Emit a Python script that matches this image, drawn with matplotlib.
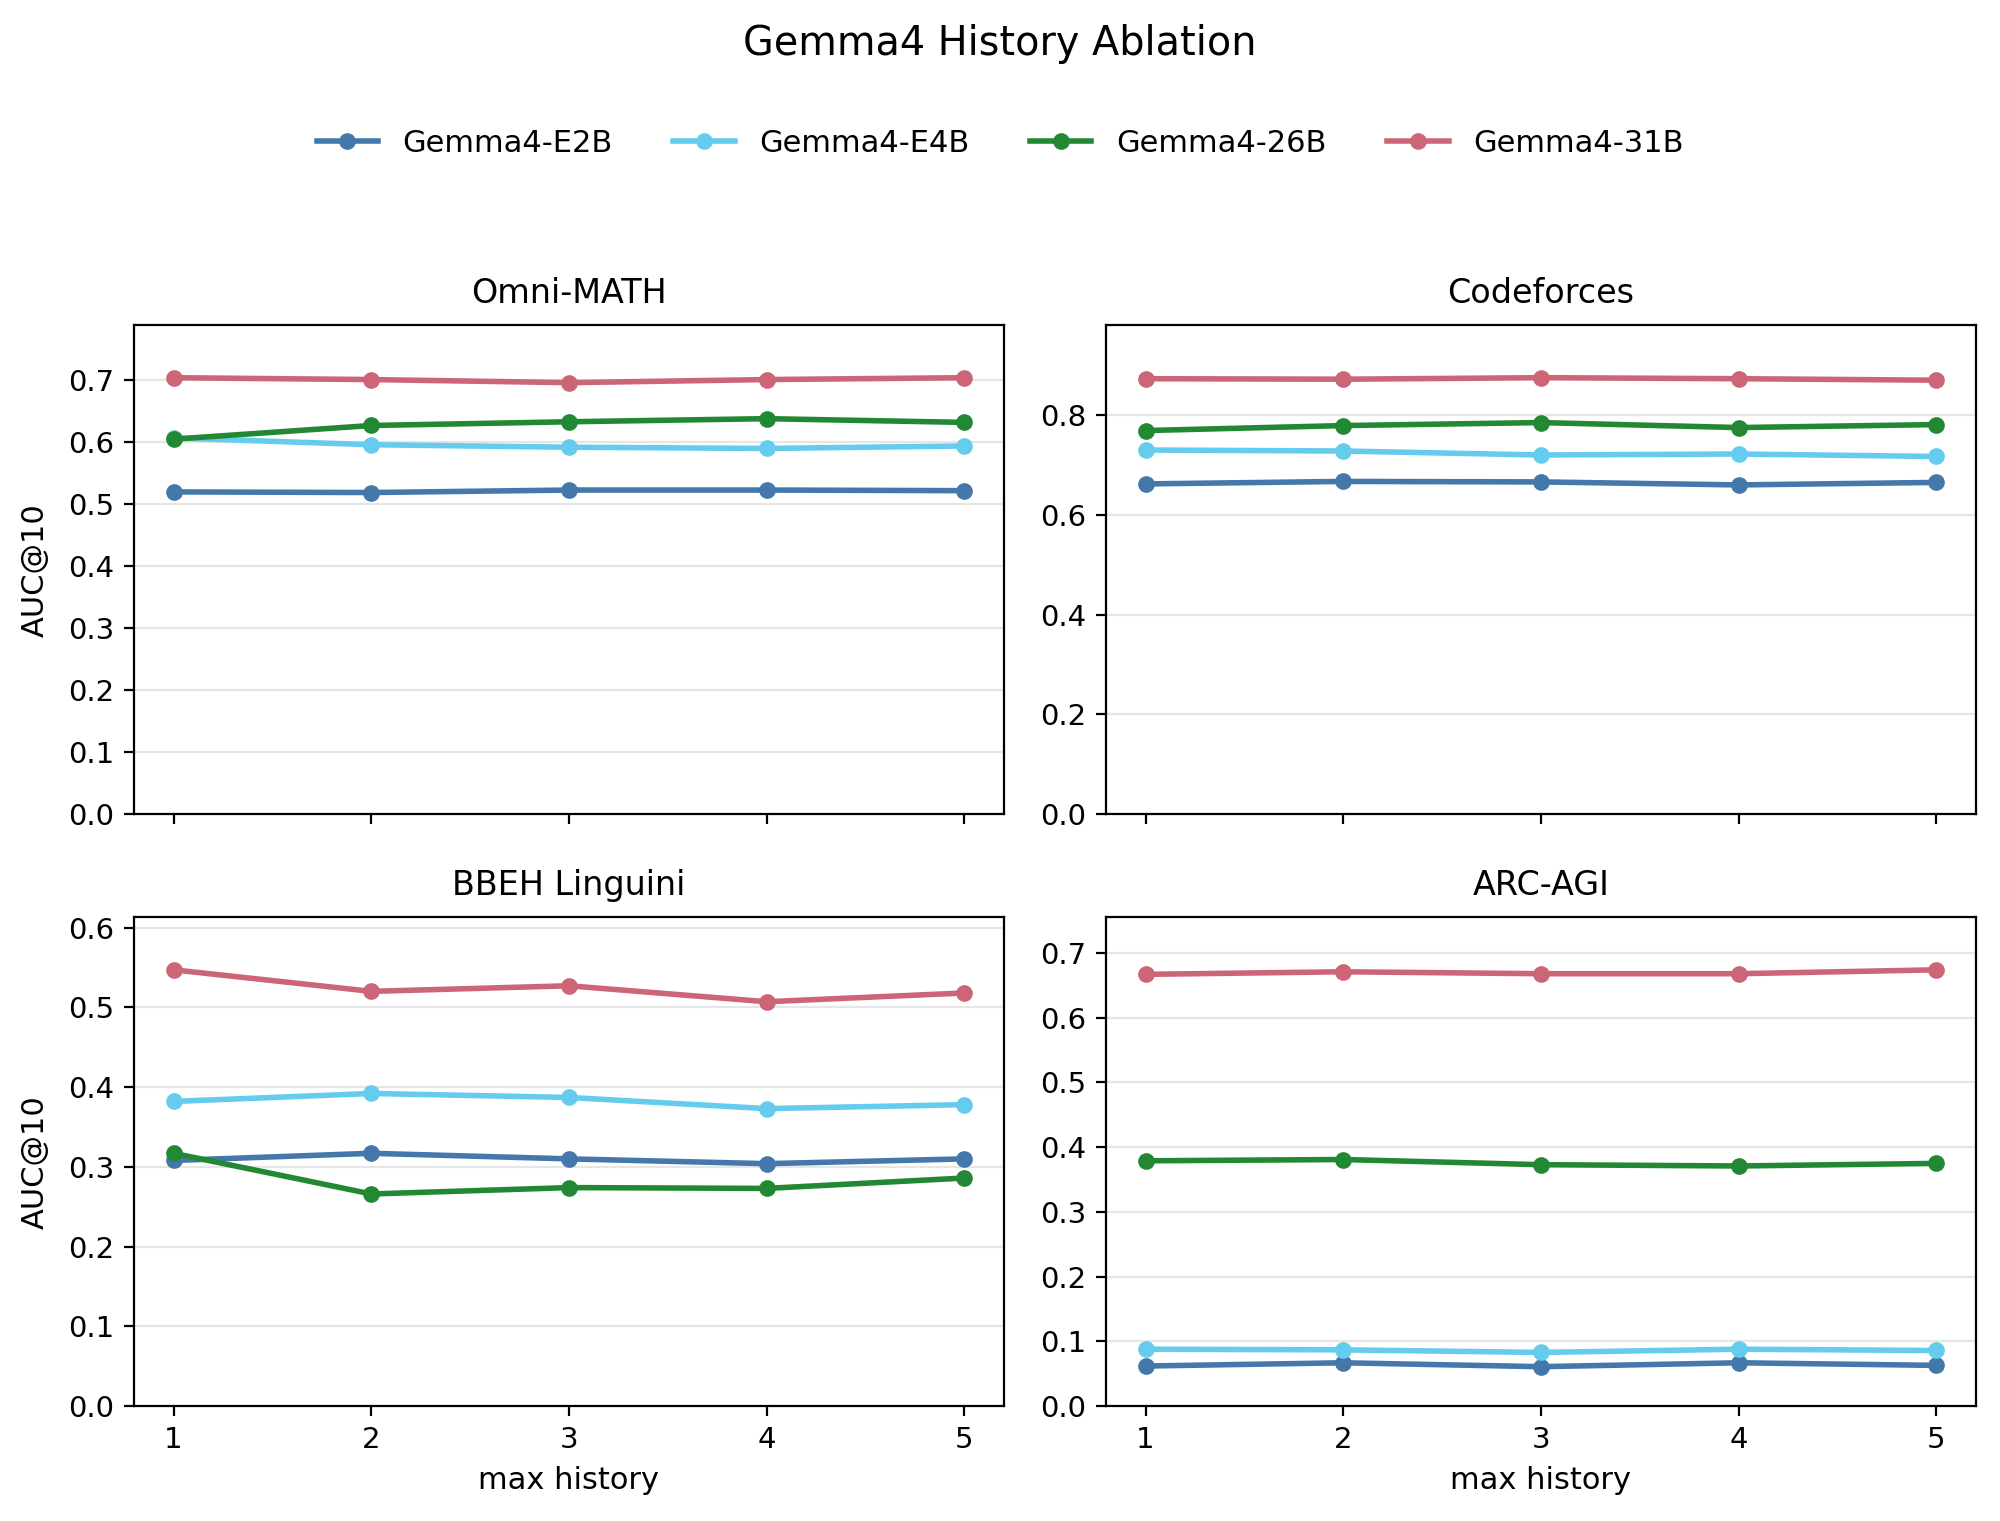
import matplotlib
matplotlib.use("Agg")
import matplotlib.pyplot as plt

history = [1, 2, 3, 4, 5]
models = ["Gemma4-E2B", "Gemma4-E4B", "Gemma4-26B", "Gemma4-31B"]
colors = ["#4477AA", "#66CCEE", "#228833", "#CC6677"]
benchmarks = ["Omni-MATH", "Codeforces", "BBEH Linguini", "ARC-AGI"]

omni_e2b = [0.519, 0.518, 0.522, 0.522, 0.521]
omni_e4b = [0.606, 0.595, 0.591, 0.589, 0.593]
omni_26b = [0.604, 0.626, 0.632, 0.637, 0.631]
omni_31b = [0.703, 0.700, 0.695, 0.700, 0.703]

cf_e2b = [0.662, 0.667, 0.666, 0.660, 0.665]
cf_e4b = [0.730, 0.728, 0.720, 0.722, 0.717]
cf_26b = [0.769, 0.779, 0.785, 0.775, 0.781]
cf_31b = [0.873, 0.872, 0.875, 0.873, 0.870]

bb_e2b = [0.308, 0.317, 0.310, 0.304, 0.310]
bb_e4b = [0.382, 0.392, 0.387, 0.373, 0.378]
bb_26b = [0.317, 0.266, 0.274, 0.273, 0.286]
bb_31b = [0.547, 0.520, 0.527, 0.507, 0.518]

arc_e2b = [0.062, 0.067, 0.061, 0.067, 0.063]
arc_e4b = [0.088, 0.087, 0.083, 0.088, 0.086]
arc_26b = [0.379, 0.381, 0.373, 0.371, 0.375]
arc_31b = [0.667, 0.671, 0.668, 0.668, 0.674]

data = {
    "Omni-MATH": [omni_e2b, omni_e4b, omni_26b, omni_31b],
    "Codeforces": [cf_e2b, cf_e4b, cf_26b, cf_31b],
    "BBEH Linguini": [bb_e2b, bb_e4b, bb_26b, bb_31b],
    "ARC-AGI": [arc_e2b, arc_e4b, arc_26b, arc_31b],
}

fig = plt.figure(figsize=(10, 7.605), dpi=200)
positions = [
    [0.067, 0.4648, 0.435, 0.3213],
    [0.553, 0.4648, 0.435, 0.3213],
    [0.067, 0.0755, 0.435, 0.3213],
    [0.553, 0.0755, 0.435, 0.3213],
]
axes = []
for i, b in enumerate(benchmarks):
    if i == 0:
        ax = fig.add_axes(positions[i])
    else:
        ax = fig.add_axes(positions[i], sharex=axes[0])
    axes.append(ax)
    vals = data[b]
    for m, c, v in zip(models, colors, vals):
        ax.plot(history, v, color=c, marker="o", markersize=5, linewidth=2, label=m)
    ymax = max(max(v) for v in vals)
    ax.set_ylim(0, ymax * 1.12)
    ax.set_title(b, fontsize=12, pad=8)
    ax.grid(axis="y", color="#e6e6e6", linewidth=0.8)
    ax.set_axisbelow(True)
    ax.set_xticks(history)
    ax.tick_params(labelsize=10.5)
    if i < 2:
        ax.tick_params(labelbottom=False)
    else:
        ax.set_xlabel("max history", fontsize=11, labelpad=4.5)
    if i % 2 == 0:
        ax.set_ylabel("AUC@10", fontsize=11, labelpad=6.5)

fig.suptitle("Gemma4 History Ablation", fontsize=14.3, y=0.9845)
handles, labels = axes[0].get_legend_handles_labels()
fig.legend(handles, labels, loc="center", bbox_to_anchor=(0.5, 0.9056), ncol=4,
           frameon=False, fontsize=11, columnspacing=2.0)

fig.savefig("out.png", dpi=200)
